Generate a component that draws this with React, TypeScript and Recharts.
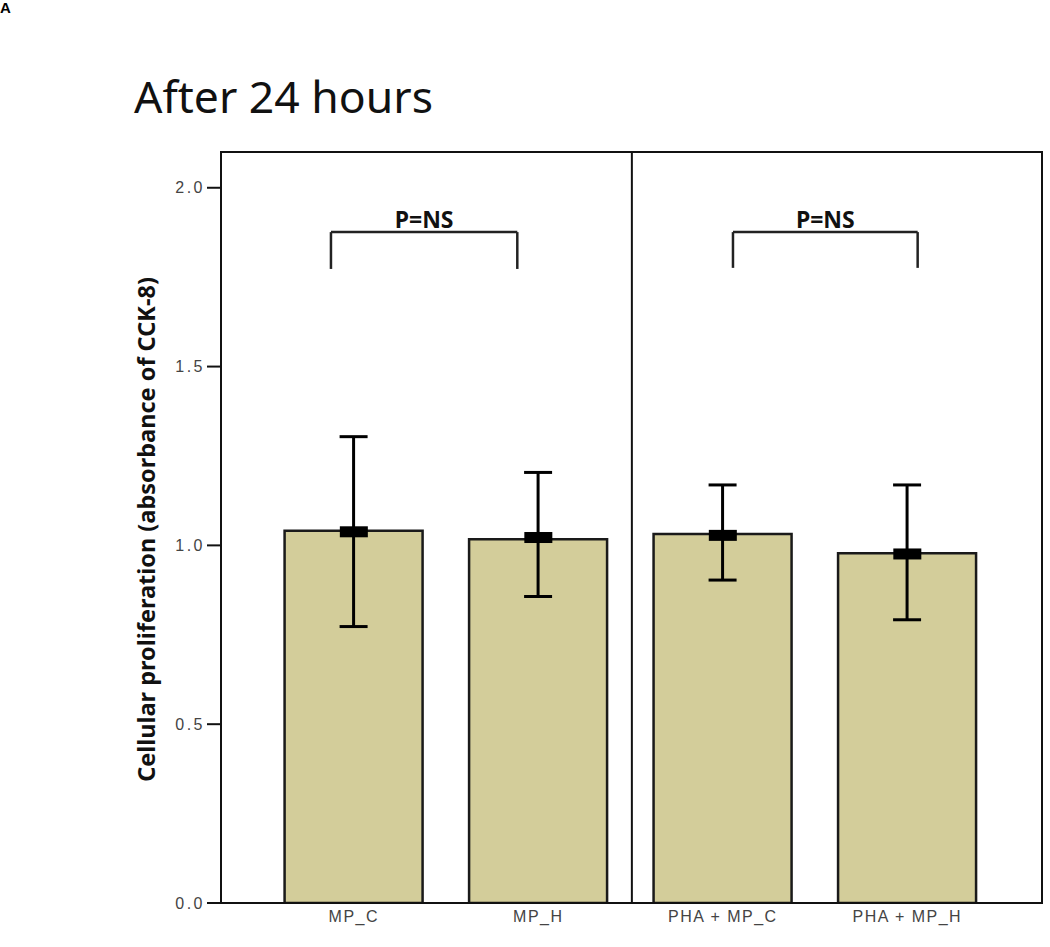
import React from 'react';
import {
  ComposedChart, Bar, ErrorBar, Scatter, XAxis, YAxis, ReferenceLine, ReferenceArea,
} from 'recharts';

const categories = ['MP_C', 'MP_H', 'PHA + MP_C', 'PHA + MP_H'];
const positions = [1, 2, 3, 4];
const barMeans = [1.041, 1.017, 1.032, 0.978];
const markerMeans = [1.038, 1.022, 1.028, 0.976];
const errHigh = [1.304, 1.204, 1.169, 1.169];
const errLow = [0.773, 0.857, 0.903, 0.792];
const yTicks = [0, 0.5, 1.0, 1.5, 2.0];
const xDomain = [0.28, 4.73];
const yDomain = [0, 2.1];
const brackets = [
  { x1: 0.876, x2: 1.886, top: 1.876, bottom: 1.773, label: 'P=NS' },
  { x1: 3.055, x2: 4.056, top: 1.876, bottom: 1.776, label: 'P=NS' },
];
const dividerX = 2.507;

const data = positions.map((x, i) => ({
  x,
  name: categories[i],
  mean: barMeans[i],
  marker: markerMeans[i],
  err: [barMeans[i] - errLow[i], errHigh[i] - barMeans[i]],
}));

const MarkerShape = (props: any) => {
  const { cx, cy } = props;
  if (cx == null || cy == null) return null;
  return <rect x={cx - 14} y={cy - 5.5} width={28} height={11} fill="#000" />;
};

const YLabel = (props: any) => {
  const vb = props.viewBox || {};
  const cy = (vb.y ?? 152) + (vb.height ?? 751) / 2 + 2;
  const cx = 146;
  return (
    <text
      x={cx}
      y={cy}
      transform={`rotate(-90, ${cx}, ${cy})`}
      textAnchor="middle"
      dominantBaseline="central"
      fontFamily="'Noto Sans', sans-serif"
      fontWeight="bold"
      fontSize={23.5}
      fill="#111"
    >
      Cellular proliferation (absorbance of CCK-8)
    </text>
  );
};

export default function App() {
  return (
    <div style={{ position: 'absolute', left: 0, top: 0, width: 1050, height: 947, background: '#fff' }}>
      <ComposedChart
        width={1050}
        height={947}
        data={data}
        margin={{ top: 152, right: 8, bottom: 14, left: 161 }}
      >
        <XAxis
          dataKey="x"
          type="number"
          domain={xDomain}
          ticks={positions}
          tickFormatter={(v: number) => categories[v - 1] ?? ''}
          tickLine={false}
          axisLine={{ stroke: '#111', strokeWidth: 2 }}
          height={30}
          tick={{ fill: '#444', fontSize: 16, fontFamily: "'Liberation Sans', Arial, sans-serif", letterSpacing: 1.5 }}
          allowDataOverflow
        />
        <YAxis
          type="number"
          domain={yDomain}
          ticks={yTicks}
          tickFormatter={(v: number) => v.toFixed(1)}
          width={60}
          tickSize={14}
          tickMargin={2}
          tickLine={{ stroke: '#111', strokeWidth: 2 }}
          axisLine={{ stroke: '#111', strokeWidth: 2 }}
          tick={{ fill: '#444', fontSize: 16, fontFamily: "'Liberation Sans', Arial, sans-serif", letterSpacing: 2.5 }}
          allowDataOverflow
          label={<YLabel />}
        />
        <ReferenceArea
          x1={xDomain[0]}
          x2={xDomain[1]}
          y1={yDomain[0]}
          y2={yDomain[1]}
          fill="none"
          fillOpacity={0}
          stroke="#111"
          strokeWidth={2}
          strokeOpacity={1}
        />
        <ReferenceLine x={dividerX} stroke="#111" strokeWidth={2} />
        {brackets.map((b, i) => (
          <ReferenceLine
            key={`bl${i}`}
            segment={[{ x: b.x1, y: b.bottom }, { x: b.x1, y: b.top }]}
            stroke="#222"
            strokeWidth={2.5}
          />
        ))}
        {brackets.map((b, i) => (
          <ReferenceLine
            key={`br${i}`}
            segment={[{ x: b.x2, y: b.bottom }, { x: b.x2, y: b.top }]}
            stroke="#222"
            strokeWidth={2.5}
          />
        ))}
        {brackets.map((b, i) => (
          <ReferenceLine
            key={`bt${i}`}
            segment={[{ x: b.x1, y: b.top }, { x: b.x2, y: b.top }]}
            stroke="#222"
            strokeWidth={2.5}
            label={{
              value: b.label,
              position: 'top',
              offset: 4,
              fill: '#111',
              fontSize: 23,
              fontWeight: 'bold',
              fontFamily: "'Noto Sans', sans-serif",
            }}
          />
        ))}
        <Bar
          dataKey="mean"
          barSize={138}
          fill="#D3CD9A"
          stroke="#1a1a1a"
          strokeWidth={2.5}
          isAnimationActive={false}
        >
          <ErrorBar dataKey="err" width={14} strokeWidth={3} stroke="#000" direction="y" />
        </Bar>
        <Scatter dataKey="marker" shape={<MarkerShape />} isAnimationActive={false} />
      </ComposedChart>
      <svg
        width={1050}
        height={947}
        style={{ position: 'absolute', left: 0, top: 0, pointerEvents: 'none' }}
      >
        <text x={0} y={13} fontFamily="'Liberation Sans', Arial, sans-serif" fontWeight="bold" fontSize={15} fill="#000">A</text>
        <text x={134} y={113} fontFamily="'Noto Sans', sans-serif" fontSize={44.5} fill="#111">After 24 hours</text>
      </svg>
    </div>
  );
}
